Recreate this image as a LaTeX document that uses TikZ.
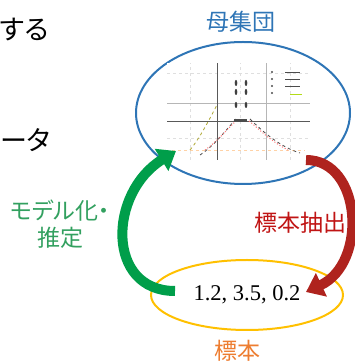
\documentclass[tikz,border=0pt]{standalone}
\usepackage{fontspec}
\usepackage{tikz}
\usetikzlibrary{arrows.meta,shapes.geometric,positioning}
\setmainfont{Liberation Serif}
\newfontfamily\jpfont[RawFeature=+palt]{Noto Sans CJK JP}
\definecolor{popblue}{RGB}{46,117,182}
\definecolor{sampyellow}{RGB}{255,192,0}
\definecolor{samporange}{RGB}{237,125,49}
\definecolor{drawred}{RGB}{175,35,30}
\definecolor{drawredtxt}{RGB}{192,20,20}
\definecolor{fitgreen}{RGB}{0,158,74}
\definecolor{fitgreentxt}{RGB}{50,160,95}
\definecolor{chartgray}{RGB}{150,150,150}
\tikzstyle{flow} = [line width=10pt, -{Triangle[length=17pt,width=25pt]}]

\begin{document}
\begin{tikzpicture}[x=1pt, y=1pt,
    jptext/.style={font=\jpfont\fontsize{23}{27}\selectfont, inner sep=0pt},
    bigtext/.style={font=\jpfont\fontsize{27}{32}\selectfont, inner sep=0pt},
    group/.style={ellipse, draw, line width=2pt, inner sep=0pt}]
\useasboundingbox (0,0) rectangle (354,363);

% Left side text
\node[bigtext, anchor=west] (suru) at (0,333) {する};
\node[bigtext, anchor=west] (data) at (0,223) {ータ};

% Population
\node[jptext, text=popblue] (poplabel) at (241,341) {母集団};
\node[group, draw=popblue, minimum width=214pt, minimum height=142pt] (pop) at (243,250) {};

% Chart in the population
\fill[white] (167,203) rectangle (310,300);
\foreach \gx in {190,240,290}
  \draw[gray!25, dashed, line width=0.4pt] (\gx,203) -- (\gx,300);
\foreach \gy in {225,290}
  \draw[gray!25, dashed, line width=0.4pt] (167,\gy) -- (310,\gy);
\draw[chartgray!70, line width=0.6pt] (167,260) -- (310,260);
\draw[chartgray!70, line width=0.6pt] (266,203) -- (266,300);
\draw[black!65, line width=0.8pt] (217,203) -- (217,300);
\draw[black!65, line width=0.8pt] (167,242) -- (310,242);
\draw[orange!35, dashed, line width=0.5pt] (172,213) -- (305,213);
\draw[olive!70, dashed, line width=0.8pt] (190,213) .. controls (200,225) and (210,245) .. (217,258);
\draw[black!70, dashed, line width=0.8pt] (200,208) .. controls (215,218) and (225,232) .. (236,244);
\draw[black!70, dashed, line width=0.8pt] (250,244) .. controls (262,232) and (280,216) .. (300,210);
\draw[red!55, dotted, line width=1pt] (205,213) .. controls (218,222) and (228,235) .. (236,242);
\draw[red!55, dotted, line width=1pt] (249,242) .. controls (258,235) and (270,222) .. (288,213);
\fill[black!70] (234,241) rectangle (247,244);
\foreach \mx/\my in {236/280,246/280,236/271,246/271,236/258,246/258}
  \fill[black!75] (\mx,\my) ellipse (1.3 and 3);
\foreach \ly in {291,284,277}
  \draw[black!70, line width=0.8pt] (285,\ly) -- (300,\ly);
\foreach \ly in {291,284,277,270}
  \fill[black!70] (272,\ly) circle (1.2);
\draw[yellow!70!green, line width=1pt] (290,268) -- (302,268);

% Sample
\node[group, draw=sampyellow, minimum width=192pt, minimum height=70pt,
      font=\fontsize{22.5}{26}\selectfont] (samp) at (247,68) {1.2, 3.5, 0.2};
\node[jptext, text=samporange] (samplabel) at (237,12) {標本};

% Arrows
\coordinate (rtail) at (306,203);
\coordinate (rtip) at (306,71);
\coordinate (gtail) at (175,72);
\coordinate (gtip) at (176,212);
\draw[flow, drawred] (rtail) .. controls (362,203) and (368,100) .. (rtip);
\draw[flow, fitgreen] (gtail) .. controls (106,72) and (108,170) .. (gtip);

% Arrow labels
\node[jptext, text=drawredtxt] (drawlabel) at (300,140) {標本抽出};
\node[jptext, text=fitgreentxt, align=center] (fitlabel) at (60,139) {モデル化・\\推定};
\end{tikzpicture}
\end{document}
